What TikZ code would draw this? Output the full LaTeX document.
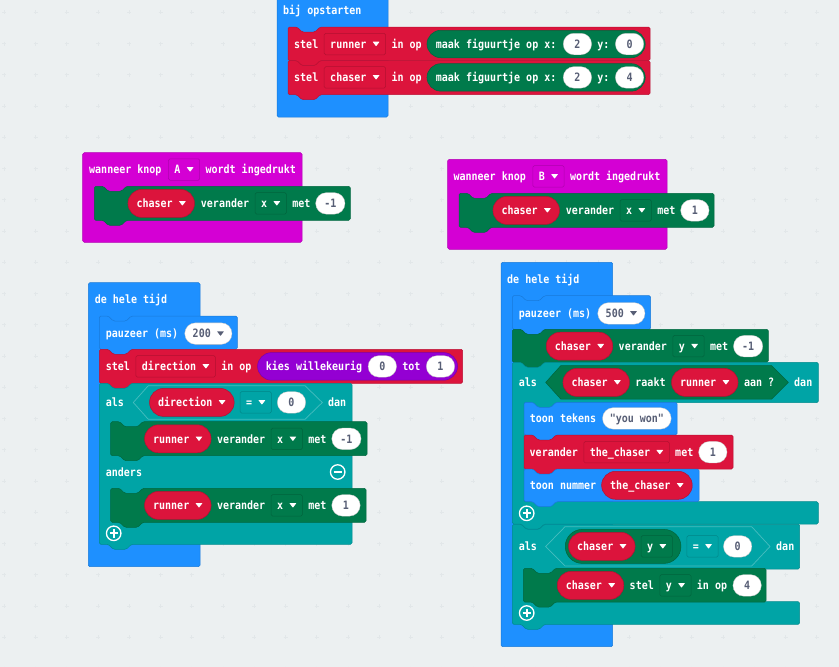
\documentclass[tikz,border=0pt]{standalone}
\usepackage{fontspec}
\usepackage{xcolor}
\usepackage{tikz}
\usetikzlibrary{positioning}
\newfontfamily\blockfont[FakeStretch=0.87]{DejaVu Sans Mono}

\begin{document}
\begin{tikzpicture}
        [ x=1pt, y=-1pt
        , node distance=5.5pt
        , tx/.style={font=\blockfont\bfseries\fontsize{11.5}{13}\selectfont, text height=10.2pt, text depth=1.6pt}
        , lb/.style={tx, anchor=west, inner sep=0pt, text=white}
        , dd/.style={tx, anchor=west, draw=#1!82!black, line width=.5pt, inner ysep=0pt, inner xsep=6pt, minimum height=21.5pt, rounded corners=1.5pt, text=white}
        , pill/.style={tx, anchor=west, fill=#1, draw=#1!82!black, line width=.5pt, inner ysep=0pt, inner xsep=8.6pt, minimum height=28pt, rounded corners=14pt, text=white}
        , wp/.style={tx, anchor=west, fill=white, draw=black!25, line width=.3pt, inner sep=0pt, minimum width=28.4pt, minimum height=21.5pt, rounded corners=10.7pt, text=gry}
        , blk/.style={fill=#1, draw=#1!85!black, line width=.5pt, rounded corners=1.5pt}
        , hexl/.style={fill=tealb, draw=tealb!72!white, line width=.7pt}
        , rnd/.style={circle, draw=white, fill=tealb, line width=1.3pt, minimum size=14.5pt, inner sep=0pt}
        , bar/.style={draw=white, line width=2.2pt}
        , cr/.style={draw=crossc, line width=.9pt}
        ]
        \definecolor{paper}{HTML}{ECF0F1}
        \definecolor{crossc}{HTML}{E2E7E9}
        \definecolor{blueb}{HTML}{1E90FF}
        \definecolor{crim}{HTML}{DC143C}
        \definecolor{grn}{HTML}{007A4B}
        \definecolor{tealb}{HTML}{00A4A6}
        \definecolor{mag}{HTML}{D400D4}
        \definecolor{purp}{HTML}{9400D3}
        \definecolor{gry}{HTML}{575E75}
        \newcommand{\tridown}[1][white]{\hspace{6.2pt}\tikz[x=1pt, y=1pt, baseline=-2pt]\fill[#1, rounded corners=.4pt] (0,4.6) -- (7,4.6) -- (3.5,0) -- cycle;}
        \newcommand{\stmtblock}[5]{\draw[blk=#1] (#2,#3) -- ++(9,0) -- ++(5,5) -- ++(13,0) -- ++(5,-5) -- (#4,#3) -- (#4,#5) -- (#2+32,#5) -- ++(-5,5) -- ++(-13,0) -- ++(-5,-5) -- (#2,#5) -- cycle;}
        \newcommand{\ifblock}[8]{\draw[blk=#1] (#2,#3) -- ++(9,0) -- ++(5,5) -- ++(13,0) -- ++(5,-5) -- (#4,#3) -- (#4,#5) -- (#6+32,#5) -- ++(-5,5) -- ++(-13,0) -- ++(-5,-5) -- (#6,#5) -- (#6,#7) -- (#4,#7) -- (#4,#8) -- (#2+32,#8) -- ++(-5,5) -- ++(-13,0) -- ++(-5,-5) -- (#2,#8) -- cycle;}

        \useasboundingbox (0,0) rectangle (839,667);
        \fill[paper] (0,0) rectangle (839,667);
        \foreach \ix in {0,...,26}
            \foreach \iy in {0,...,21} {
                \draw[cr] (2.4+31.25*\ix,12.3+31.25*\iy) -- ++(4,0);
                \draw[cr] (4.4+31.25*\ix,10.3+31.25*\iy) -- ++(0,4);
            }

        \draw[blk=blueb] (277,-4) rectangle (388,117);
        \node (bo) [lb] at (283,10) {bij opstarten};
        \stmtblock{crim}{288}{27}{650}{60.7}
        \node (s1) [lb] at (294,44) {stel};
            \node (s1v) [dd=crim, right=of s1] {runner\tridown};
            \node (s1i) [lb, right=of s1v] {in op};
            \node (s1p) [pill=grn, minimum width=218.3pt, minimum height=27.5pt, inner xsep=0pt] at (426.7,44) {};
            \node (s1t) [lb] at (435.7,44) {maak figuurtje op x:};
            \node (s1x) [wp, right=6.5pt of s1t] {2};
            \node (s1l) [lb, right=of s1x] {y:};
            \node (s1y) [wp, right=of s1l] {0};
        \stmtblock{crim}{288}{60.7}{650}{94.7}
        \node (s2) [lb] at (294,77.4) {stel};
            \node (s2v) [dd=crim, right=of s2] {chaser\tridown};
            \node (s2i) [lb, right=of s2v] {in op};
            \node (s2p) [pill=grn, minimum width=218.3pt, minimum height=27.5pt, inner xsep=0pt] at (426.7,77.4) {};
            \node (s2t) [lb] at (435.7,77.4) {maak figuurtje op x:};
            \node (s2x) [wp, right=6.5pt of s2t] {2};
            \node (s2l) [lb, right=of s2x] {y:};
            \node (s2y) [wp, right=of s2l] {4};

        \draw[blk=mag] (82.7,152.7) rectangle (302,242.3);
        \node (ka) [lb] at (89,169.5) {wanneer knop};
            \node (kav) [dd=mag, right=6.5pt of ka] {A\tridown};
            \node (kat) [lb, right=of kav] {wordt ingedrukt};
        \stmtblock{grn}{94.3}{186.3}{350.3}{220.3}
        \node (ca) [pill=crim] at (127.7,203.4) {chaser\tridown};
            \node (cat) [lb, right=6pt of ca] {verander};
            \node (cav) [dd=grn, right=of cat] {x\tridown};
            \node (cam) [lb, right=of cav] {met};
            \node (can) [wp, right=5pt of cam, minimum width=29.3pt] {-1};

        \draw[blk=mag] (447.7,159.3) rectangle (667,249.3);
        \node (kb) [lb] at (453.4,176.4) {wanneer knop};
            \node (kbv) [dd=mag, right=6.5pt of kb] {B\tridown};
            \node (kbt) [lb, right=of kbv] {wordt ingedrukt};
        \stmtblock{grn}{459}{193.3}{714}{227.3}
        \node (cb) [pill=crim] at (492.7,210.4) {chaser\tridown};
            \node (cbt) [lb, right=6pt of cb] {verander};
            \node (cbv) [dd=grn, right=of cbt] {x\tridown};
            \node (cbm) [lb, right=of cbv] {met};
            \node (cbn) [wp, right=5pt of cbm] {1};

        \draw[blk=blueb] (88.3,282.7) rectangle (200,566.7);
        \node (lf) [lb] at (94.7,299.4) {de hele tijd};
        \stmtblock{blueb}{99.3}{316}{237.3}{349.3}
        \node (lp) [lb] at (105.7,333.6) {pauzeer (ms)};
            \node (lpn) [wp, inner xsep=8pt, right=6.2pt of lp] {200\tridown[gry]};
        \stmtblock{crim}{99.3}{349.3}{462.7}{383.3}
        \node (ls) [lb] at (105.7,366.4) {stel};
            \node (lsv) [dd=crim, right=of ls] {direction\tridown};
            \node (lsi) [lb, right=of lsv] {in op};
            \node (lsp) [pill=purp, minimum width=200pt, minimum height=27.6pt, inner xsep=0pt] at (257.3,366.4) {};
            \node (lst) [lb] at (265.7,366.4) {kies willekeurig};
            \node (lsa) [wp, right=of lst] {0};
            \node (lsl) [lb, right=of lsa] {tot};
            \node (lsb) [wp, right=of lsl] {1};

        \stmtblock{tealb}{99.3}{383.3}{352}{544.3}
        \node (la) [lb] at (105.7,402.4) {als};
        \draw[hexl] (133.3,402.5) -- (148.3,385.7) -- (305,385.7) -- (322.3,402.5) -- (305,419.3) -- (148.3,419.3) -- cycle;
            \node (lad) [pill=crim] at (149.3,402.4) {direction\tridown};
            \node (lae) [dd=tealb, right=of lad] {=\tridown};
            \node (lan) [wp, right=of lae] {0};
            \node (lat) [lb] at (328,402.4) {dan};
        \stmtblock{grn}{110.7}{421.7}{367}{455.7}
        \node (ra) [pill=crim] at (144.3,438.8) {runner\tridown};
            \node (rat) [lb, right=of ra] {verander};
            \node (rav) [dd=grn, right=of rat] {x\tridown};
            \node (ram) [lb, right=of rav] {met};
            \node (ran) [wp, right=5pt of ram, minimum width=29.3pt] {-1};
        \node (le) [lb] at (105.7,472.4) {anders};
        \node (lmin) [rnd] at (337.7,472) {};
        \draw[bar] (lmin.center) ++(-4.2,0) -- ++(8.4,0);
        \stmtblock{grn}{110.7}{488.3}{366}{522.3}
        \node (rb) [pill=crim] at (144.3,505.4) {runner\tridown};
            \node (rbt) [lb, right=of rb] {verander};
            \node (rbv) [dd=grn, right=of rbt] {x\tridown};
            \node (rbm) [lb, right=of rbv] {met};
            \node (rbn) [wp, right=5pt of rbm] {1};
        \node (lplus) [rnd] at (113.7,533.3) {};
        \draw[bar] (lplus.center) ++(-4.2,0) -- ++(8.4,0);
        \draw[bar] (lplus.center) ++(0,-4.2) -- ++(0,8.4);

        \draw[blk=blueb] (501,262.3) rectangle (612.7,646.7);
        \node (rf) [lb] at (507,279.4) {de hele tijd};
        \stmtblock{blueb}{512.3}{295.7}{650.7}{329.3}
        \node (rp) [lb] at (518.7,313.4) {pauzeer (ms)};
            \node (rpn) [wp, inner xsep=8pt, right=6.2pt of rp] {500\tridown[gry]};
        \stmtblock{grn}{512.3}{329.3}{768.3}{362.3}
        \node (cy) [pill=crim] at (546,346.2) {chaser\tridown};
            \node (cyt) [lb, right=of cy] {verander};
            \node (cyv) [dd=grn, right=of cyt] {y\tridown};
            \node (cym) [lb, right=of cyv] {met};
            \node (cyn) [wp, right=5pt of cym, minimum width=29.3pt] {-1};

        \ifblock{tealb}{512.3}{362.3}{818.3}{402.7}{524}{501.7}{524}
        \node (ia) [lb] at (518.7,382.4) {als};
        \draw[fill=grn, draw=grn!82!black, line width=.5pt] (545.7,382.4) -- (560.7,365.7) -- (771.7,365.7) -- (788.3,382.4) -- (771.7,399) -- (560.7,399) -- cycle;
            \node (ic) [pill=crim] at (562.7,382.4) {chaser\tridown};
            \node (ict) [lb, right=of ic] {raakt};
            \node (icr) [pill=crim, right=of ict] {runner\tridown};
            \node (icq) [lb, right=of icr] {aan ?};
            \node (icd) [lb] at (794,382.4) {dan};
        \stmtblock{blueb}{524}{402.3}{677}{435}
        \node (tt) [lb] at (529.7,418.4) {toon tekens};
            \node (ttw) [wp, right=6pt of tt, minimum width=68.7pt] {"you won"};
        \stmtblock{crim}{524}{435}{733}{469}
        \node (vt) [lb] at (529.5,452.2) {verander};
            \node (vtv) [dd=crim, right=of vt] {the\_chaser\tridown};
            \node (vtm) [lb, right=of vtv] {met};
            \node (vtn) [wp, right=5pt of vtm] {1};
        \stmtblock{blueb}{524}{469}{699}{501.7}
        \node (tn) [lb] at (529.7,485.3) {toon nummer};
            \node (tnc) [pill=crim, right=5pt of tn] {the\_chaser\tridown};
        \node (rplusa) [rnd] at (526.7,513.3) {};
        \draw[bar] (rplusa.center) ++(-4.2,0) -- ++(8.4,0);
        \draw[bar] (rplusa.center) ++(0,-4.2) -- ++(0,8.4);

        \ifblock{tealb}{512.3}{524.3}{799.7}{569}{524}{601.7}{624.3}
        \node (ib) [lb] at (518.7,546.6) {als};
        \draw[hexl] (545.7,546.5) -- (565,526.7) -- (751.7,526.7) -- (770,546.5) -- (751.7,566) -- (565,566) -- cycle;
            \node (ibp) [pill=grn, minimum width=115.7pt, minimum height=34pt, rounded corners=17pt, inner xsep=0pt] at (565,546.4) {};
            \node (ibc) [pill=crim] at (568.3,546.4) {chaser\tridown};
            \node (ibv) [dd=grn, right=of ibc] {y\tridown};
            \node (ibe) [dd=tealb, right=14pt of ibv] {=\tridown};
            \node (ibn) [wp, right=5pt of ibe] {0};
            \node (ibd) [lb] at (776,546.6) {dan};
        \stmtblock{grn}{523.3}{568.3}{766}{602}
        \node (cz) [pill=crim] at (557,585.4) {chaser\tridown};
            \node (czt) [lb, right=of cz] {stel};
            \node (czv) [dd=grn, right=of czt] {y\tridown};
            \node (czi) [lb, right=of czv] {in op};
            \node (czn) [wp, right=of czi] {4};
        \node (rplusb) [rnd] at (526.7,613) {};
        \draw[bar] (rplusb.center) ++(-4.2,0) -- ++(8.4,0);
        \draw[bar] (rplusb.center) ++(0,-4.2) -- ++(0,8.4);

    \end{tikzpicture}
\end{document}
